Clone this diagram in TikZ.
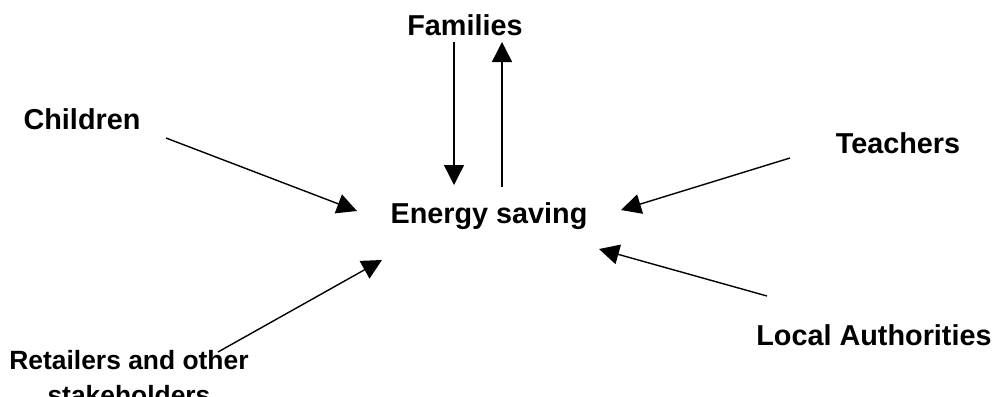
\documentclass[tikz,border=0pt]{standalone}
\usepackage{fontspec}
\setmainfont{Liberation Sans}
\usetikzlibrary{arrows.meta}
\begin{document}
\begin{tikzpicture}
[x=0.5pt,y=-0.5pt,
  arrowDecorate/.style={-{Triangle[length=10pt,width=10pt]},line width=0.7pt},%
  nodeDecorate/.style={inner sep=0pt,anchor=base,
    font=\fontsize{14.4pt}{17pt}\selectfont\bfseries}]
\useasboundingbox (0,0) rectangle (995,396);
%% nodes or vertices
\foreach \nodename/\x/\y/\nodetext in {
  families/465/35/Families, children/82/129/Children,
  teachers/898/153/Teachers, energy/489/223/Energy saving,
  local/874/345/Local Authorities}
{
  \node (\nodename) at (\x,\y) [nodeDecorate] {\nodetext};
}
\node (retailers) at (129,404) [nodeDecorate,align=center,
  font=\fontsize{13.2pt}{17.5pt}\selectfont\bfseries]
  {Retailers and other\\stakeholders};
%% arrow ends
\foreach \name/\x/\y in {
  famOut/454/42, famIn/454/185, enOut/502/187, enIn/502/42,
  chOut/166/138, chIn/357/211, teOut/790/158, teIn/621/210,
  loOut/767/296, loIn/599/249, reOut/218/352, reIn/382/260}
{
  \coordinate (\name) at (\x,\y);
}
%% edges or lines
\path
\foreach \startnode/\endnode in {famOut/famIn, enOut/enIn, chOut/chIn,
  teOut/teIn, loOut/loIn, reOut/reIn}
{
  (\startnode) edge[arrowDecorate] (\endnode)
};
\end{tikzpicture}
\end{document}
